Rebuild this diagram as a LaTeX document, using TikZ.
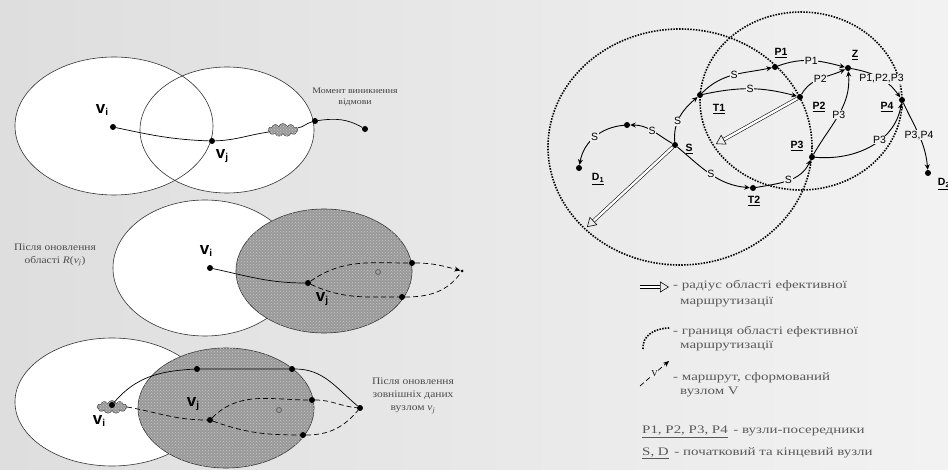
\documentclass[tikz,border=0pt]{standalone}
\usepackage{fontspec}
\setmainfont{Liberation Serif}
\newfontfamily\sansf{Liberation Sans}
\newfontfamily\widef[FakeStretch=1.3]{Liberation Serif}
\newfontfamily\notef[FakeStretch=1.15]{Liberation Serif}
\usetikzlibrary{arrows.meta,shapes.symbols,patterns}

\tikzset{
  whiteell/.style={fill=white},
  ellline/.style={draw=black!80, line width=0.6pt},
  hatchell/.style={draw=black!80, line width=0.6pt, fill=black!40,
    postaction={pattern=crosshatch dots, pattern color=white!78!black}},
  dot/.style={circle, fill=black, inner sep=0pt, minimum size=6pt},
  smalldot/.style={circle, fill=black, inner sep=0pt, minimum size=3pt},
  ring/.style={circle, draw=black!70, line width=0.5pt, inner sep=0pt, minimum size=5pt},
  cloudy/.style={cloud, cloud puffs=11, draw=black!80, line width=0.4pt, inner sep=0pt,
    minimum width=30pt, minimum height=13pt, fill=black!40,
    postaction={pattern=crosshatch dots, pattern color=white!80!black}},
  route/.style={line width=0.7pt},
  droute/.style={line width=0.7pt, dash pattern=on 5pt off 3pt},
  tipped/.style={-{Stealth[length=6pt,width=5pt]}},
  vlab/.style={font=\sansf\bfseries\fontsize{17}{17}\selectfont, inner sep=0pt},
  note/.style={font=\notef\fontsize{8.5}{11}\selectfont, text=black!75, align=center, inner sep=0pt},
  bignote/.style={font=\notef\fontsize{10}{13}\selectfont, text=black!70, align=center, inner sep=0pt},
  dotb/.style={line width=1.6pt, dash pattern=on 1.5pt off 1.3pt, draw=black},
  redge/.style={line width=0.9pt, -{Stealth[length=5.5pt,width=5pt]}},
  elab/.style={font=\sansf\fontsize{10.5}{10.5}\selectfont, fill=black!6, inner sep=0.6pt},
  nlab/.style={font=\sansf\bfseries\fontsize{10.5}{10.5}\selectfont, inner sep=0pt},
  radarrow/.style={double=white, double distance=2.4pt, line width=0.55pt,
    -{Triangle[open, length=9pt, width=11pt]}},
  legtext/.style={font=\widef\fontsize{11.5}{12}\selectfont, text=black!65, anchor=west, inner sep=0pt},
}

\newcommand{\vsub}[1]{v\raisebox{-2pt}{\fontsize{10}{10}\selectfont #1}}

\begin{document}
\begin{tikzpicture}[x=1pt,y=-1pt]
  % page background
  \shade[left color=black!13, right color=black!5] (0,0) rectangle (948,470);
  \useasboundingbox (0,0) rectangle (948,470);

  %% ---------- panel 1: route before the failure ----------
  \fill[whiteell] (114,126) ellipse [x radius=99pt, y radius=69pt];
  \fill[whiteell] (227,130) ellipse [x radius=87pt, y radius=63pt];
  \draw[ellline] (114,126) ellipse [x radius=99pt, y radius=69pt];
  \draw[ellline] (227,130) ellipse [x radius=87pt, y radius=63pt];

  \node[dot] (a-vi) at (113,127) {};
  \node[dot] (a-vj) at (212,141) {};
  \node[cloudy] (a-cl) at (283,130) {};
  \node[dot] (a-b) at (315,121) {};
  \node[dot] (a-e) at (365,129) {};
  \draw[route] (a-vi) to[out=-12,in=178] (a-vj) to[out=2,in=188] (a-cl)
               to[out=8,in=195] (a-b) to[out=8,in=150] (a-e);
  \node[vlab] (a-vil) at (102,110) {\vsub{i}};
  \node[vlab] (a-vjl) at (222,156) {\vsub{j}};
  \node[note] (a-txt) at (355,97) {Момент виникнення\\відмови};

  %% ---------- panel 2: after the update of R(v_j) ----------
  \fill[whiteell] (205,268) ellipse [x radius=92pt, y radius=68pt];
  \draw[ellline] (205,268) ellipse [x radius=92pt, y radius=68pt];
  \path[hatchell] (324,271) ellipse [x radius=88pt, y radius=62pt];

  \node[dot] (b-vi) at (210,268) {};
  \node[dot] (b-vj) at (308,283) {};
  \node[dot] (b-u) at (412,263) {};
  \node[dot] (b-l) at (402,297) {};
  \node[smalldot] (b-t) at (462,271) {};
  \node[ring] (b-o) at (378,272) {};
  \draw[route] (b-vi) to[out=-12,in=180] (b-vj);
  \draw[droute] (b-vj) to[out=35,in=180] (b-u);
  \draw[droute,tipped] (b-u) to[out=0,in=165] (b-t);
  \draw[droute] (b-vj) to[out=-25,in=180] (b-l);
  \draw[droute] (b-l) to[out=0,in=-125] (b-t);
  \node[vlab] (b-vil) at (206,251) {\vsub{i}};
  \node[vlab] (b-vjl) at (322,299) {\vsub{j}};
  \node[bignote] (b-txt) at (55,255) {Після оновлення\\області \textit{R}(\textit{v}\textsubscript{\textit{j}})};

  %% ---------- panel 3: after the update of external data ----------
  \fill[whiteell] (112,402) ellipse [x radius=97pt, y radius=64pt];
  \draw[ellline] (112,402) ellipse [x radius=97pt, y radius=64pt];
  \path[hatchell] (226,408) ellipse [x radius=88pt, y radius=60pt];

  \node[cloudy] (c-cl) at (112,407) {};
  \node[dot] (c-vi) at (112,405) {};
  \node[dot] (c-vj) at (210,420) {};
  \node[dot] (c-a) at (197,369) {};
  \node[dot] (c-b) at (292,369) {};
  \node[dot] (c-t) at (360,408) {};
  \node[dot] (c-u) at (312,400) {};
  \node[dot] (c-l) at (303,435) {};
  \node[ring] (c-o) at (279,410) {};
  \draw[route] (c-vi) to[out=50,in=183] (c-a) -- (c-b) to[out=0,in=140] (c-t);
  \draw[droute] (c-cl.east) to[out=-10,in=180] (c-vj);
  \draw[droute] (c-vj) to[out=45,in=180] (c-u) to[out=0,in=175] (c-t);
  \draw[droute] (c-vj) to[out=-20,in=180] (c-l) to[out=0,in=-130] (c-t);
  \node[vlab] (c-vil) at (99,421) {\vsub{i}};
  \node[vlab] (c-vjl) at (193,404) {\vsub{j}};
  \node[bignote] (c-txt) at (413,396) {Після оновлення\\зовнішніх даних\\вузлом \textit{v}\textsubscript{\textit{j}}};

  %% ---------- routing areas ----------
  \draw[dotb] (680,147) ellipse [x radius=132pt, y radius=118pt];
  \draw[dotb] (801,101) ellipse [x radius=101pt, y radius=89pt];

  \node[dot] (S) at (675,145) {};
  \node[dot] (T1) at (700,95) {};
  \node[dot] (P1) at (775,67) {};
  \node[dot] (P2) at (800,97) {};
  \node[dot] (Z) at (848,68) {};
  \node[dot] (P3) at (812,157) {};
  \node[dot] (P4) at (902,100) {};
  \node[dot] (D2) at (928,173) {};
  \node[dot] (T2) at (753,188) {};
  \node[dot] (M) at (627,125) {};
  \node[dot] (D1) at (579,168) {};

  % radius arrows
  \coordinate (R1) at (587,227);
  \coordinate (R2) at (716,144);
  \draw[radarrow] (S) -- (R1);
  \draw[radarrow] (P2) -- (R2);

  % routes
  \draw[redge] (S) to[out=95,in=220] node[elab,pos=0.4]{S} (T1);
  \draw[redge] (T1) to[out=45,in=192] node[elab]{S} (P1);
  \draw[redge] (T1) to[out=12,in=165] node[elab]{S} (P2);
  \draw[redge] (P1) to[out=20,in=165] node[elab]{P1} (Z);
  \draw[redge] (P2) to[out=60,in=205] node[elab]{P2} (Z);
  \draw[redge] (P3) to[out=60,in=-85] node[elab]{P3} (Z);
  \draw[redge] (Z) to[out=-10,in=125] node[elab,pos=0.55]{P1,P2,P3} (P4);
  \draw[redge] (P3) to[out=-5,in=-100] node[elab,pos=0.6]{P3} (P4);
  \draw[redge] (P4) to[out=-65,in=95] node[elab]{P3,P4} (D2);
  \draw[redge] (S) to[out=-40,in=175] node[elab]{S} (T2);
  \draw[redge] (T2) to[out=10,in=-115] node[elab]{S} (P3);
  \draw[redge] (S) to[out=150,in=0] node[elab]{S} (M);
  \draw[redge] (M) to[out=185,in=80] node[elab]{S} (D1);

  % node names
  \node[nlab] (lP1) at (781,53) {\underline{P1}};
  \node[nlab] (lZ) at (855,55) {\underline{Z}};
  \node[nlab] (lP2) at (819,107) {\underline{P2}};
  \node[nlab] (lT1) at (719,109) {\underline{T1}};
  \node[nlab] (lS) at (689,149) {\underline{S}};
  \node[nlab] (lD1) at (598,179) {\underline{D\textsubscript{1}}};
  \node[nlab] (lT2) at (754,201) {\underline{T2}};
  \node[nlab] (lP3) at (797,146) {\underline{P3}};
  \node[nlab] (lP4) at (887,107) {\underline{P4}};
  \node[nlab] (lD2) at (944,184) {\underline{D\textsubscript{2}}};

  %% ---------- legend ----------
  \coordinate (L1a) at (640,287);
  \coordinate (L1b) at (669,287);
  \draw[radarrow] (L1a) -- (L1b);
  \node[legtext] (t1a) at (673,286) {- радіус області ефективної};
  \node[legtext] (t1b) at (680,302) {маршрутизації};

  \coordinate (L2a) at (643,349);
  \coordinate (L2b) at (670,328);
  \draw[dotb] (L2a) .. controls (642,336) and (654,328) .. (L2b);
  \node[legtext] (t2a) at (673,332) {- границя області ефективної};
  \node[legtext] (t2b) at (680,346) {маршрутизації};

  \coordinate (L3a) at (640,386);
  \coordinate (L3b) at (669,361);
  \draw[droute,tipped] (L3a) -- node[font=\fontsize{9}{9}\selectfont, fill=black!6, inner sep=0.3pt]{V} (L3b);
  \node[legtext] (t3a) at (673,378) {- маршрут, сформований};
  \node[legtext] (t3b) at (680,392) {вузлом V};

  \node[legtext] (t4) at (642,432) {\underline{P1, P2, P3, P4} \,- вузли-посередники};
  \node[legtext] (t5) at (642,453) {\underline{S, D} \,- початковий та кінцевий вузли};
\end{tikzpicture}
\end{document}
